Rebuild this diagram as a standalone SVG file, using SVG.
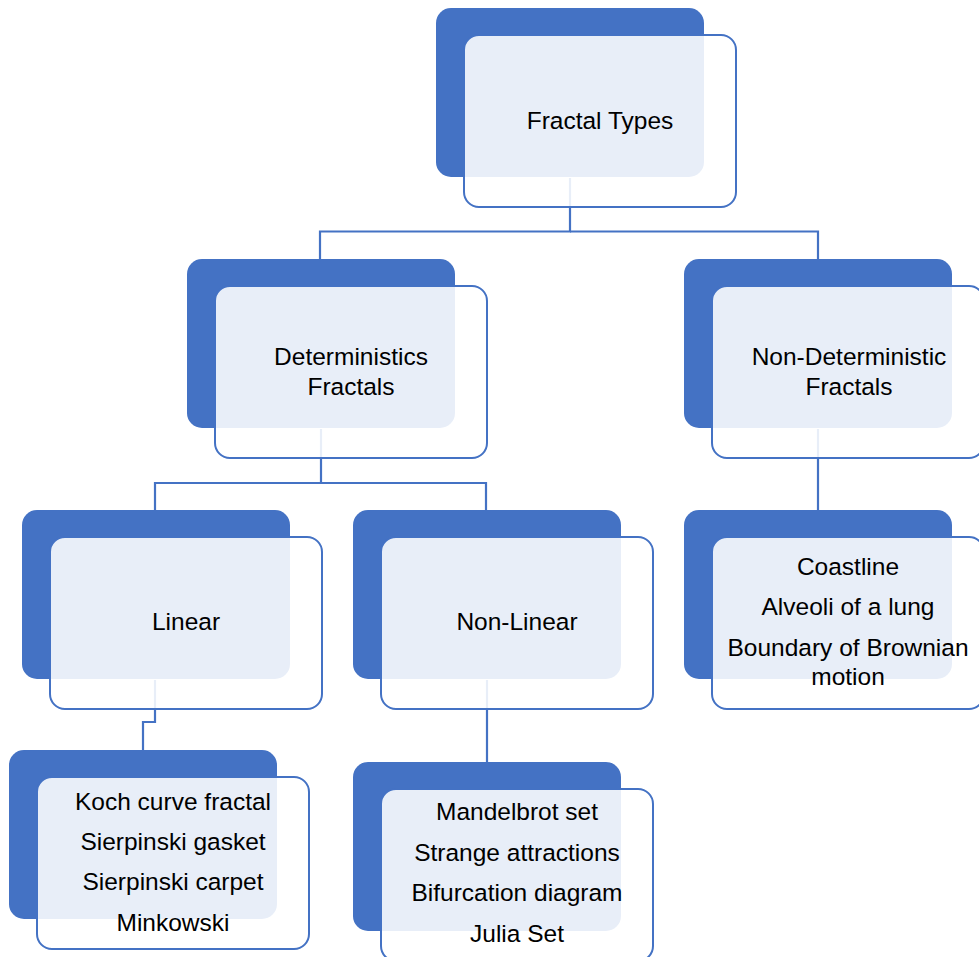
<svg xmlns="http://www.w3.org/2000/svg" width="979" height="957" viewBox="0 0 979 957">
<style>
.back{fill:#4472C4;}
.front{fill:#FFFFFF;fill-opacity:0.88;stroke:#4472C4;stroke-width:2;}
.conn{fill:none;stroke:#4472C4;stroke-width:2.2;}
text{font-family:"Liberation Sans",Arial,sans-serif;font-size:24.5px;fill:#000;text-anchor:middle;}
</style>
<rect width="979" height="957" fill="#FFFFFF"/>
<g id="connectors">
<polyline class="conn" points="570,178 570,231.5 320,231.5 320,259"/>
<polyline class="conn" points="570,231.5 818,231.5 818,259"/>
<polyline class="conn" points="321,429 321,483 155,483 155,510"/>
<polyline class="conn" points="321,483 486,483 486,510"/>
<polyline class="conn" points="818,429 818,510"/>
<polyline class="conn" points="155,680 155,722 143,722 143,750"/>
<polyline class="conn" points="487,680 487,762"/>
</g>
<g id="fractal-types">
<rect class="back" x="436" y="8" width="268" height="169" rx="15"/>
<rect class="front" x="464" y="35" width="272" height="172" rx="15"/>
<text x="600" y="129">Fractal Types</text>
</g>
<g id="deterministic">
<rect class="back" x="187" y="259" width="268" height="169" rx="15"/>
<rect class="front" x="215" y="286" width="272" height="172" rx="15"/>
<text x="351" y="365">Deterministics</text>
<text x="351" y="395">Fractals</text>
</g>
<g id="non-deterministic">
<rect class="back" x="684" y="259" width="268" height="169" rx="15"/>
<rect class="front" x="712" y="286" width="272" height="172" rx="15"/>
<text x="849" y="365">Non-Deterministic</text>
<text x="849" y="395">Fractals</text>
</g>
<g id="linear">
<rect class="back" x="22" y="510" width="268" height="169" rx="15"/>
<rect class="front" x="50" y="537" width="272" height="172" rx="15"/>
<text x="186" y="630">Linear</text>
</g>
<g id="non-linear">
<rect class="back" x="353" y="510" width="268" height="169" rx="15"/>
<rect class="front" x="381" y="537" width="272" height="172" rx="15"/>
<text x="517" y="630">Non-Linear</text>
</g>
<g id="non-det-examples">
<rect class="back" x="684" y="510" width="268" height="169" rx="15"/>
<rect class="front" x="712" y="537" width="272" height="172" rx="15"/>
<text x="848" y="575">Coastline</text>
<text x="848" y="615">Alveoli of a lung</text>
<text x="848" y="656">Boundary of Brownian</text>
<text x="848" y="685">motion</text>
</g>
<g id="linear-examples">
<rect class="back" x="9" y="750" width="268" height="169" rx="15"/>
<rect class="front" x="37" y="777" width="272" height="172" rx="15"/>
<text x="173" y="810">Koch curve fractal</text>
<text x="173" y="850">Sierpinski gasket</text>
<text x="173" y="890">Sierpinski carpet</text>
<text x="173" y="931">Minkowski</text>
</g>
<g id="non-linear-examples">
<rect class="back" x="353" y="762" width="268" height="169" rx="15"/>
<rect class="front" x="381" y="789" width="272" height="172" rx="15"/>
<text x="517" y="820">Mandelbrot set</text>
<text x="517" y="861">Strange attractions</text>
<text x="517" y="901">Bifurcation diagram</text>
<text x="517" y="942">Julia Set</text>
</g>
</svg>
